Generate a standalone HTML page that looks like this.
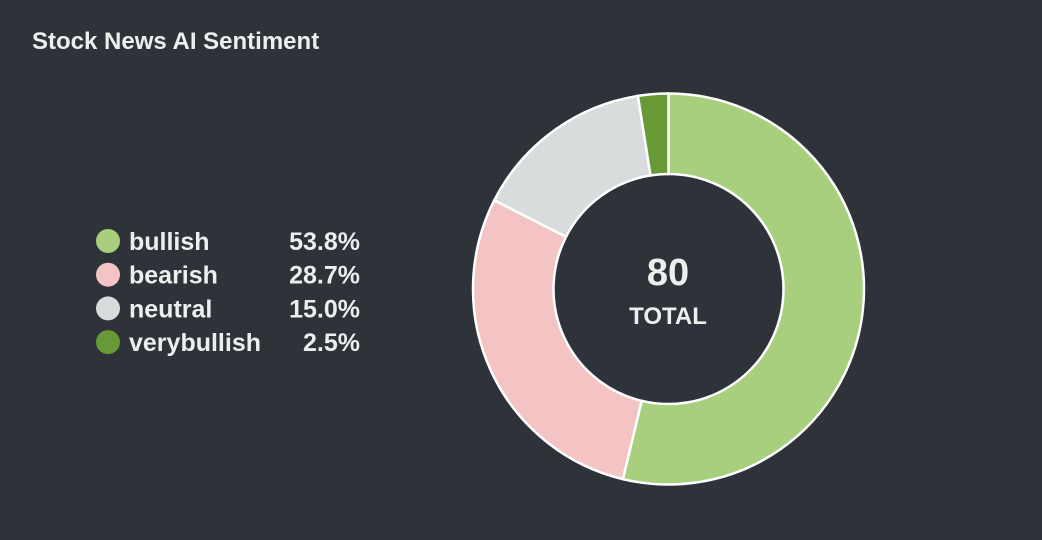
<!DOCTYPE html>
<html><head><meta charset="utf-8"><style>
html,body{margin:0;padding:0;background:#2e333a;width:1042px;height:540px;overflow:hidden}
text{font-family:"Liberation Sans",sans-serif;font-weight:bold;fill:#eeeeee}
</style></head><body>
<svg id="chart" width="1042" height="540">
<text x="32" y="49" font-size="24">Stock News AI Sentiment</text>
<g id="slices"></g>
<text x="668" y="285" font-size="38" text-anchor="middle" id="total"></text>
<text x="668" y="324" font-size="24" text-anchor="middle">TOTAL</text>
<g id="legend"></g>
</svg>
<script>
const categories = ["bullish","bearish","neutral","verybullish"];
const values = [43,23,12,2];
const colors = ["#a8cf7e","#f4c3c3","#d9dcdc","#679a36"];
const NS="http://www.w3.org/2000/svg";
const cx=668.5, cy=289, R=195.5, r=115;
const total=values.reduce((a,b)=>a+b,0);
document.getElementById('total').textContent=total;
function pt(rad,a){return [cx+rad*Math.sin(a), cy-rad*Math.cos(a)];}
let a0=0;
const g=document.getElementById('slices');
values.forEach((v,i)=>{
  const a1=a0+v/total*2*Math.PI;
  const large=(a1-a0)>Math.PI?1:0;
  const [x0,y0]=pt(R,a0),[x1,y1]=pt(R,a1),[x2,y2]=pt(r,a1),[x3,y3]=pt(r,a0);
  const p=document.createElementNS(NS,'path');
  p.setAttribute('d',`M${x0},${y0}A${R},${R} 0 ${large} 1 ${x1},${y1}L${x2},${y2}A${r},${r} 0 ${large} 0 ${x3},${y3}Z`);
  p.setAttribute('fill',colors[i]);
  p.setAttribute('stroke','#ffffff');
  p.setAttribute('stroke-width','2.5');
  
  
  g.appendChild(p);
  a0=a1;
});
const lg=document.getElementById('legend');
categories.forEach((c,i)=>{
  const y=241+i*33.7;
  const e=document.createElementNS(NS,'g');
  
  
  const ci=document.createElementNS(NS,'circle');
  ci.setAttribute('cx',108);ci.setAttribute('cy',y);ci.setAttribute('r',12);ci.setAttribute('fill',colors[i]);
  const t=document.createElementNS(NS,'text');
  t.setAttribute('x',129);t.setAttribute('y',y+9);t.setAttribute('font-size','25');t.textContent=c;
  const p=document.createElementNS(NS,'text');
  p.setAttribute('x',360);p.setAttribute('y',y+9);p.setAttribute('font-size','25');p.setAttribute('text-anchor','end');
  p.textContent=(values[i]/total*100).toFixed(1)+'%';
  e.appendChild(ci);e.appendChild(t);e.appendChild(p);lg.appendChild(e);
});
</script>
</body></html>
